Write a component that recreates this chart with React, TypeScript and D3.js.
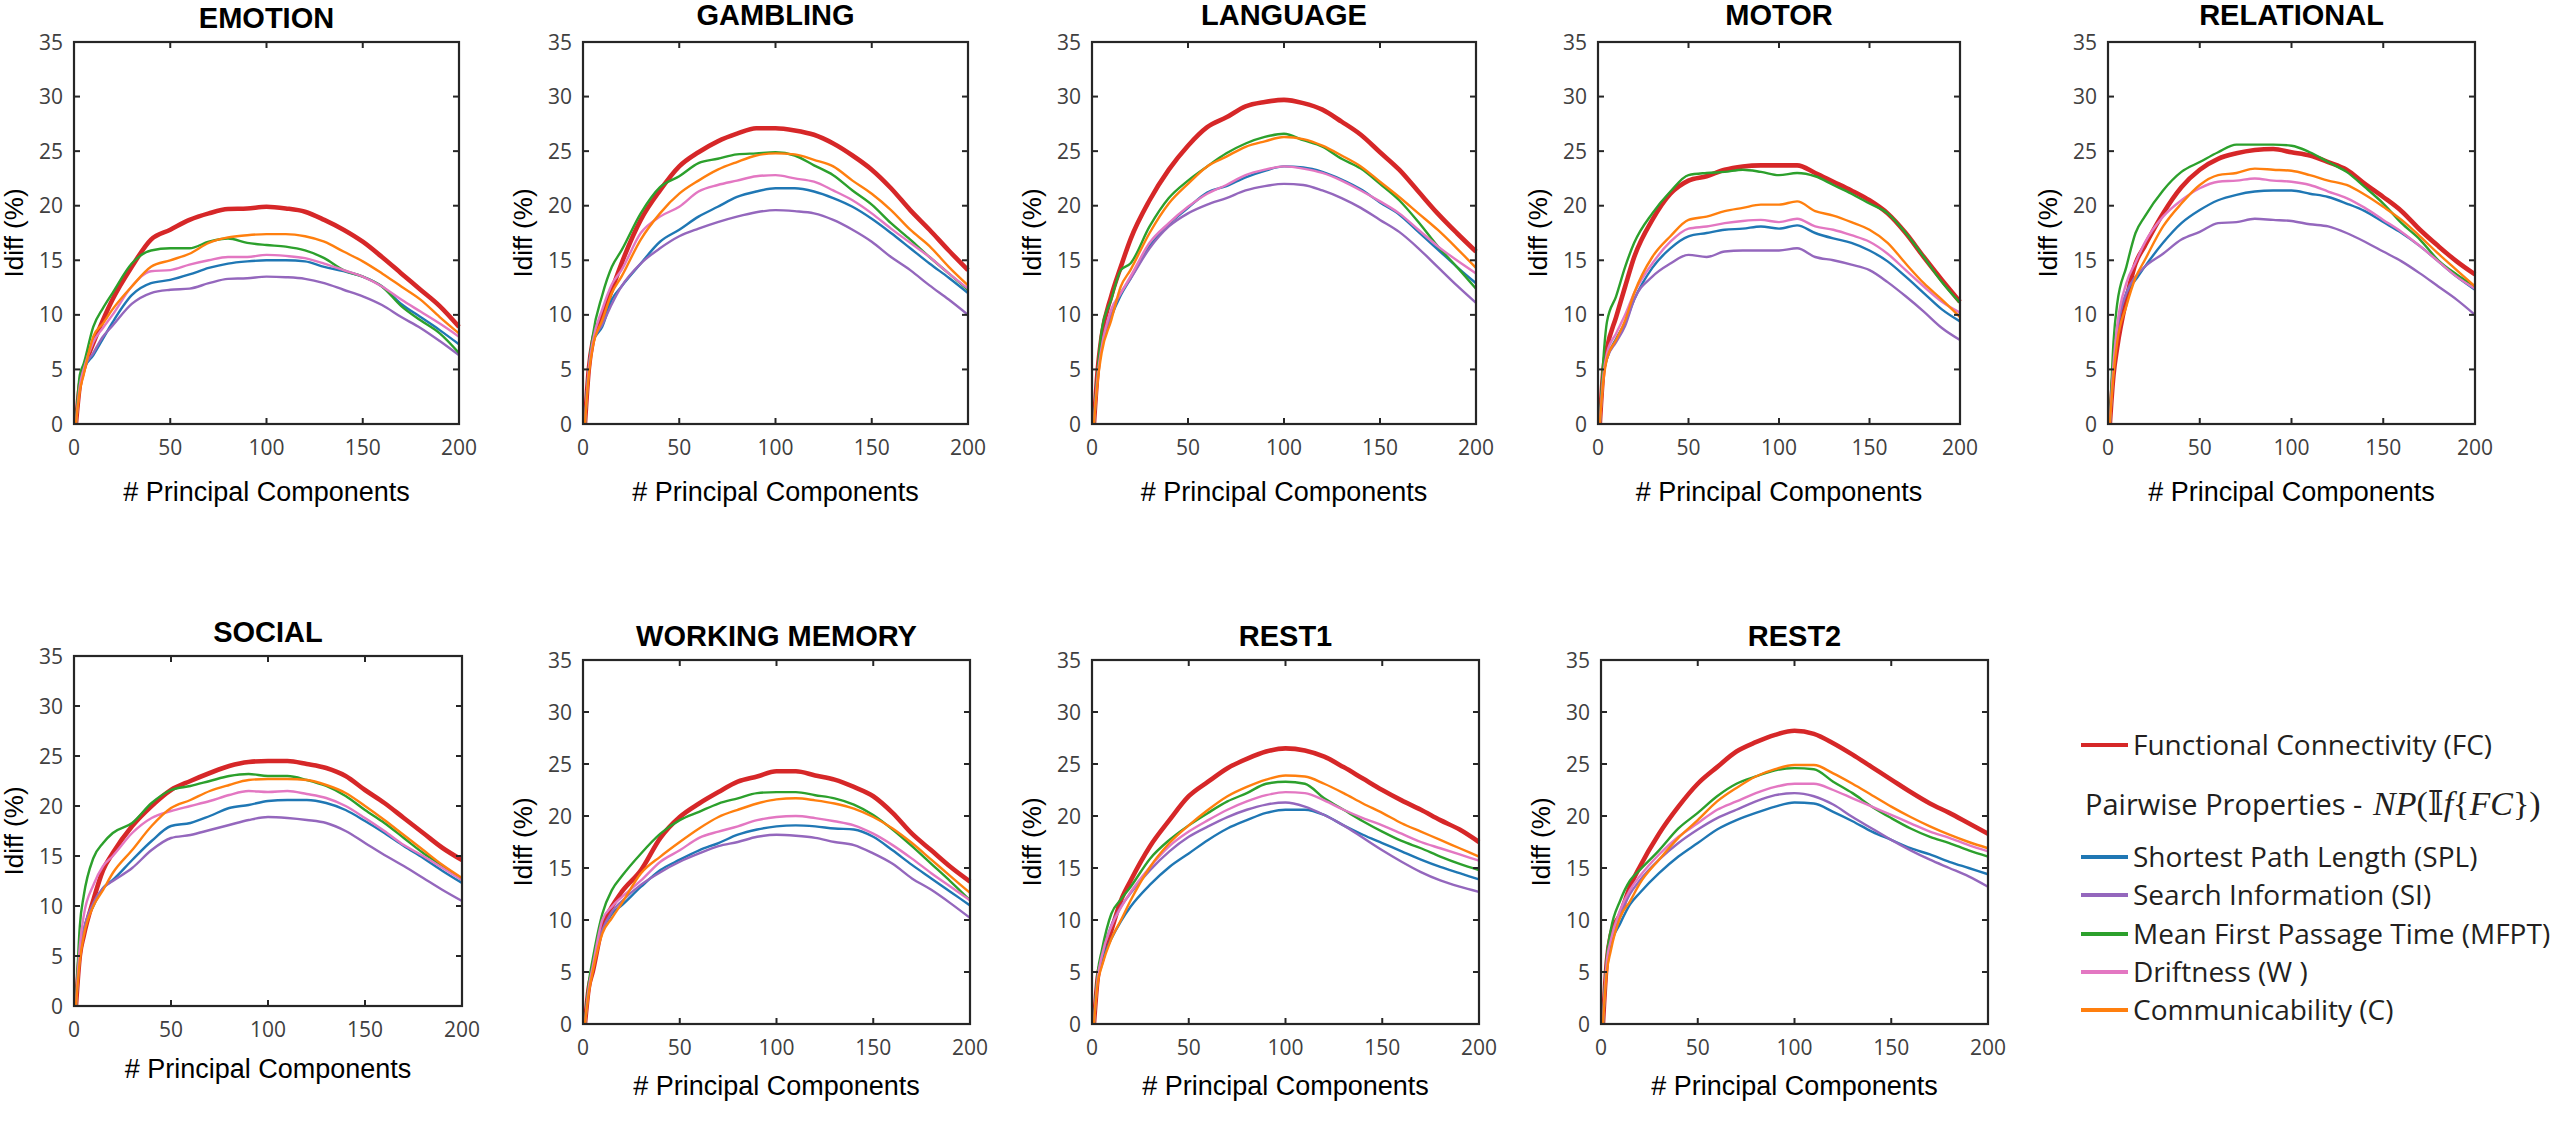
import React from "react";
import * as d3 from "d3";

// ---------- data ----------
const XS = [1, 3, 5, 10, 15, 20, 30, 40, 50, 60, 70, 80, 90, 100, 110, 120, 130, 140, 150, 160, 170, 180, 190, 200];
const SERIES = ["FC", "SPL", "SI", "MFPT", "W", "C"];
const COLORS = ["#d62728", "#1f77b4", "#9467bd", "#2ca02c", "#e377c2", "#ff7f0e"];
const X_TICKS = [0, 50, 100, 150, 200];
const Y_TICKS = [0, 5, 10, 15, 20, 25, 30, 35];
const TITLES = ["EMOTION", "GAMBLING", "LANGUAGE", "MOTOR", "RELATIONAL", "SOCIAL", "WORKING MEMORY", "REST1", "REST2"];

const EMOTION = [
  [0, 3.5, 5, 7.4, 9.5, 11.4, 14.4, 16.9, 17.8, 18.7, 19.3, 19.7, 19.75, 19.9, 19.75, 19.45, 18.7, 17.8, 16.7, 15.3, 13.8, 12.3, 10.8, 8.9],
  [0, 3.5, 5, 6.3, 7.8, 9.3, 11.8, 12.9, 13.2, 13.7, 14.3, 14.7, 14.9, 15, 15, 14.9, 14.4, 14, 13.5, 12.6, 11, 9.8, 8.6, 7.3],
  [0, 3.5, 5, 6.5, 8, 9, 11, 12, 12.3, 12.4, 12.9, 13.3, 13.35, 13.5, 13.45, 13.3, 12.9, 12.3, 11.7, 10.9, 9.8, 8.8, 7.6, 6.3],
  [0, 4.5, 5.5, 8.9, 10.6, 12, 14.7, 15.9, 16.1, 16.1, 16.7, 17, 16.6, 16.4, 16.25, 15.9, 15.2, 14.1, 13.5, 12.6, 10.8, 9.5, 8.3, 6.5],
  [0, 3.5, 5, 7.5, 8.8, 10, 12.6, 14, 14.1, 14.6, 15, 15.3, 15.3, 15.5, 15.4, 15.2, 14.7, 14.1, 13.5, 12.6, 11.4, 10.3, 9.2, 8],
  [0, 3, 4.5, 8, 9.2, 10.5, 12.6, 14.4, 15, 15.6, 16.6, 17.1, 17.3, 17.4, 17.4, 17.2, 16.7, 15.8, 14.9, 13.8, 12.6, 11.4, 9.8, 8.3],
];
const GAMBLING = [
  [0, 5, 7.5, 9.8, 12.3, 14.7, 18.7, 21.4, 23.6, 24.9, 25.9, 26.6, 27.1, 27.1, 26.9, 26.5, 25.7, 24.6, 23.3, 21.6, 19.6, 17.8, 15.9, 14.1],
  [0, 5, 7.5, 8.9, 11.4, 12.6, 14.7, 16.7, 17.8, 19, 19.9, 20.8, 21.3, 21.6, 21.6, 21.3, 20.7, 19.9, 18.8, 17.5, 16.1, 14.7, 13.4, 12],
  [0, 5, 7.5, 9.1, 11, 12.6, 14.7, 16.1, 17.2, 17.9, 18.5, 19, 19.4, 19.6, 19.5, 19.3, 18.7, 17.8, 16.7, 15.3, 14.1, 12.7, 11.4, 10],
  [0, 5, 8, 11.8, 14.4, 15.9, 19.3, 21.7, 22.7, 23.9, 24.3, 24.7, 24.8, 24.9, 24.6, 23.7, 22.8, 21.4, 20.1, 18.4, 16.9, 15.3, 13.8, 12.3],
  [0, 5, 7.5, 10.5, 12.8, 14.1, 17.5, 19, 19.9, 21.3, 21.9, 22.3, 22.7, 22.8, 22.5, 22.2, 21.4, 20.5, 19.3, 17.9, 16.6, 15.3, 13.8, 12.4],
  [0, 4.5, 7, 9.5, 12, 13.5, 16.9, 19.3, 21.1, 22.3, 23.3, 24, 24.6, 24.8, 24.7, 24.2, 23.6, 22.3, 21.1, 19.6, 17.8, 16.3, 14.4, 12.7],
];
const LANGUAGE = [
  [0, 5, 8, 11.7, 14.4, 16.9, 20.5, 23.3, 25.5, 27.2, 28.1, 29.1, 29.5, 29.7, 29.4, 28.8, 27.7, 26.5, 24.9, 23.3, 21.3, 19.3, 17.5, 15.8],
  [0, 4.5, 7, 9.8, 11.8, 13.3, 16.3, 18.3, 19.8, 21.2, 21.8, 22.6, 23.2, 23.6, 23.5, 23.1, 22.4, 21.5, 20.3, 19.2, 17.6, 16, 14.4, 12.9],
  [0, 4.5, 7, 10, 12, 13.3, 16.1, 18.1, 19.3, 20.1, 20.7, 21.4, 21.8, 22, 21.9, 21.4, 20.7, 19.8, 18.7, 17.6, 16.1, 14.4, 12.7, 11.1],
  [0, 5, 8.5, 11.4, 14.1, 14.7, 18.1, 20.7, 22.3, 23.6, 24.8, 25.7, 26.3, 26.6, 26, 25.4, 24.3, 23.4, 22, 20.5, 18.5, 16.3, 14.4, 12.4],
  [0, 4.5, 7, 10.5, 12, 13.5, 16.6, 18.4, 19.9, 21.1, 21.9, 22.8, 23.3, 23.6, 23.4, 23, 22.3, 21.4, 20.4, 19.3, 17.8, 16.3, 15, 13.8],
  [0, 4, 6.5, 9.5, 12.6, 14.1, 17.5, 20.2, 22, 23.6, 24.5, 25.4, 25.9, 26.3, 26.1, 25.5, 24.6, 23.6, 22.2, 20.8, 19.3, 17.8, 16.1, 14.3],
];
const MOTOR = [
  [0, 5, 7, 9.8, 12.6, 15.3, 18.7, 21.1, 22.3, 22.7, 23.3, 23.6, 23.7, 23.7, 23.7, 23, 22.2, 21.4, 20.5, 19.3, 17.5, 15.3, 13.2, 11.2],
  [0, 4.5, 6, 7.8, 9.3, 11.4, 14.3, 16.1, 17.2, 17.5, 17.8, 17.9, 18.1, 17.9, 18.2, 17.5, 17, 16.6, 15.9, 14.9, 13.5, 12, 10.5, 9.4],
  [0, 4.5, 6, 7.5, 9, 11.4, 13.5, 14.7, 15.5, 15.3, 15.8, 15.9, 15.9, 15.9, 16.1, 15.3, 15, 14.6, 14.1, 13, 11.7, 10.3, 8.8, 7.7],
  [0, 6, 9.4, 11.7, 14.4, 16.6, 19.3, 21.3, 22.8, 23, 23.1, 23.3, 23.1, 22.8, 23, 22.7, 21.9, 21.1, 20.2, 19.3, 17.5, 15.3, 13, 11.1],
  [0, 4.5, 6.5, 8.3, 10, 12, 14.7, 16.7, 17.9, 18.1, 18.4, 18.6, 18.7, 18.5, 18.8, 18.1, 17.8, 17.3, 16.7, 15.6, 14.1, 12.6, 11.2, 10.2],
  [0, 4, 6, 7.7, 9.5, 12, 15.3, 17.2, 18.7, 19, 19.5, 19.8, 20.1, 20.1, 20.4, 19.5, 19.1, 18.5, 17.8, 16.6, 14.7, 12.9, 11.4, 9.8],
];
const RELATIONAL = [
  [0, 4.5, 7, 11.4, 14.7, 16.3, 19.3, 21.7, 23.3, 24.3, 24.8, 25.1, 25.2, 24.9, 24.6, 24, 23.3, 22, 20.8, 19.5, 17.8, 16.3, 14.9, 13.7],
  [0, 5, 8.5, 12, 13.2, 14.4, 16.6, 18.4, 19.6, 20.5, 21, 21.3, 21.4, 21.4, 21.1, 20.8, 20.2, 19.5, 18.5, 17.5, 16.3, 14.9, 13.5, 12.3],
  [0, 5, 8.5, 12, 13.5, 14.4, 15.6, 16.9, 17.6, 18.4, 18.5, 18.8, 18.7, 18.6, 18.3, 18.1, 17.5, 16.7, 15.8, 14.9, 13.8, 12.6, 11.4, 10],
  [0, 7.5, 11, 14.4, 17.5, 19, 21.4, 23.1, 24, 24.9, 25.6, 25.6, 25.6, 25.5, 24.9, 24, 23.1, 21.7, 20.2, 18.4, 16.9, 15, 13.7, 12.6],
  [0, 5.5, 9, 12.9, 14.8, 16.6, 19, 20.5, 21.6, 22.2, 22.3, 22.5, 22.3, 22.2, 21.9, 21.3, 20.7, 19.8, 18.7, 17.6, 16.3, 14.9, 13.5, 12.4],
  [0, 4.5, 7.5, 10.8, 13.4, 15, 18.1, 20.2, 21.9, 22.8, 23, 23.4, 23.3, 23.2, 22.8, 22.3, 21.9, 21, 19.9, 18.7, 17.2, 15.6, 14.1, 12.6],
];
const SOCIAL = [
  [0, 5, 7, 10.6, 13.6, 15.3, 18, 20, 21.6, 22.5, 23.3, 24, 24.4, 24.5, 24.5, 24.2, 23.8, 23, 21.6, 20.3, 18.8, 17.3, 15.8, 14.6],
  [0, 5, 7.5, 10, 11.8, 12.6, 14.6, 16.5, 18, 18.3, 19, 19.8, 20.1, 20.5, 20.6, 20.6, 20.3, 19.6, 18.5, 17.3, 16, 14.8, 13.5, 12.3],
  [0, 5, 7.5, 10.3, 11.8, 12.5, 13.8, 15.6, 16.8, 17.1, 17.6, 18.1, 18.6, 18.9, 18.8, 18.6, 18.3, 17.5, 16.3, 15.1, 14, 12.8, 11.6, 10.5],
  [0, 8, 11, 14.8, 16.3, 17.3, 18.3, 20.3, 21.6, 22, 22.5, 23, 23.2, 23, 23, 22.6, 22, 21, 19.6, 18.3, 16.8, 15.3, 14, 12.6],
  [0, 6, 9, 12.1, 14, 15, 17.3, 18.8, 19.5, 20, 20.5, 21.1, 21.5, 21.4, 21.5, 21.2, 20.8, 20, 18.8, 17.5, 16.1, 15, 13.8, 12.6],
  [0, 4.5, 7, 10, 11.6, 13.3, 15.6, 18, 19.8, 20.6, 21.5, 22.1, 22.6, 22.7, 22.7, 22.6, 22.1, 21.3, 20, 18.6, 17.1, 15.6, 14.1, 12.8],
];
const WORKING_MEMORY = [
  [0, 3.5, 5, 9.4, 11.3, 12.7, 14.8, 17.9, 19.9, 21.2, 22.3, 23.3, 23.8, 24.3, 24.3, 23.9, 23.5, 22.8, 21.9, 20.3, 18.3, 16.7, 15.1, 13.7],
  [0, 3.5, 5.5, 9, 10.6, 11.4, 13.2, 14.8, 15.8, 16.7, 17.4, 18.2, 18.7, 19, 19.1, 19, 18.8, 18.7, 18, 16.7, 15.3, 14, 12.7, 11.4],
  [0, 3.5, 5.5, 9, 10.8, 11.8, 13.4, 14.6, 15.6, 16.4, 17.1, 17.5, 18, 18.2, 18.1, 17.9, 17.5, 17.2, 16.4, 15.4, 14, 12.9, 11.6, 10.2],
  [0, 4, 6.2, 10.6, 12.9, 14.2, 16.4, 18.3, 19.6, 20.4, 21.2, 21.7, 22.2, 22.3, 22.3, 22, 21.7, 21.1, 20.1, 18.7, 17.1, 15.4, 13.7, 11.9],
  [0, 3.5, 5.5, 10, 11.3, 12.2, 13.8, 15.6, 16.7, 17.9, 18.5, 19, 19.6, 19.9, 20, 19.8, 19.5, 19.1, 18.3, 17.2, 15.9, 14.5, 13.2, 11.9],
  [0, 3, 5, 8.7, 10.2, 11.6, 14.5, 16.1, 17.5, 18.8, 19.9, 20.6, 21.2, 21.6, 21.7, 21.5, 21.2, 20.7, 19.9, 18.8, 17.4, 15.8, 14.2, 12.6],
];
const REST1 = [
  [0, 4.5, 6, 9, 11.9, 13.8, 17.1, 19.6, 21.9, 23.3, 24.6, 25.5, 26.2, 26.5, 26.3, 25.7, 24.7, 23.6, 22.5, 21.5, 20.6, 19.6, 18.7, 17.5],
  [0, 4.5, 6, 8.2, 9.9, 11.3, 13.4, 15.1, 16.4, 17.7, 18.8, 19.6, 20.3, 20.6, 20.6, 20.1, 19.1, 18.2, 17.4, 16.6, 15.8, 15.1, 14.5, 13.9],
  [0, 4.5, 6.5, 9.5, 11.3, 12.6, 14.8, 16.6, 18, 19, 19.9, 20.6, 21.1, 21.3, 20.9, 20.1, 19.1, 17.9, 16.7, 15.6, 14.6, 13.8, 13.2, 12.7],
  [0, 5, 7, 10.6, 12, 13.2, 15.9, 17.7, 19.1, 20.3, 21.4, 22.2, 23.1, 23.3, 23.1, 21.7, 20.6, 19.5, 18.5, 17.6, 16.9, 16.1, 15.4, 14.8],
  [0, 4.5, 6.5, 9.4, 11.2, 12.7, 15.1, 17.1, 18.5, 19.6, 20.6, 21.4, 22, 22.3, 22.2, 21.5, 20.6, 19.8, 19.1, 18.3, 17.5, 16.9, 16.3, 15.7],
  [0, 4, 5.5, 8.2, 10, 11.9, 15.1, 17.4, 19.1, 20.6, 21.9, 22.8, 23.5, 23.9, 23.8, 23.1, 22.2, 21.2, 20.3, 19.3, 18.5, 17.7, 16.9, 16.1],
];
const REST2 = [
  [0, 6, 8.5, 10.6, 13.2, 15.1, 18.3, 20.9, 23.1, 24.7, 26.2, 27.1, 27.8, 28.2, 27.9, 27, 25.9, 24.7, 23.5, 22.3, 21.2, 20.3, 19.3, 18.3],
  [0, 5.5, 7.5, 9.7, 11.5, 12.6, 14.5, 16.1, 17.4, 18.7, 19.6, 20.3, 20.9, 21.3, 21.2, 20.4, 19.5, 18.5, 17.7, 16.9, 16.3, 15.6, 15, 14.4],
  [0, 6, 8, 10.5, 12.5, 13.8, 15.8, 17.4, 18.7, 19.8, 20.6, 21.4, 22, 22.2, 21.9, 21.1, 19.9, 18.8, 17.7, 16.7, 15.8, 15, 14.2, 13.2],
  [0, 6.5, 9, 11.9, 13.8, 14.8, 16.7, 18.8, 20.3, 21.9, 23.1, 23.8, 24.4, 24.6, 24.5, 23.3, 22.2, 20.9, 19.8, 18.8, 18, 17.4, 16.7, 16.1],
  [0, 6, 8, 11, 12.9, 14.2, 16.3, 18, 19.3, 20.6, 21.4, 22.2, 22.8, 23.1, 23.1, 22.5, 21.7, 20.9, 20.1, 19.3, 18.5, 17.9, 17.2, 16.6],
  [0, 5, 7, 10.3, 11.8, 13.5, 15.8, 17.9, 19.6, 21.4, 22.7, 23.8, 24.5, 24.9, 24.9, 24.1, 23.1, 22, 20.9, 19.9, 19, 18.2, 17.5, 16.9],
];
const PANEL_DATA = [EMOTION, GAMBLING, LANGUAGE, MOTOR, RELATIONAL, SOCIAL, WORKING_MEMORY, REST1, REST2];

const LEGEND_LABELS = [
  "Functional Connectivity (FC)",
  "Shortest Path Length (SPL)",
  "Search Information (SI)",
  "Mean First Passage Time (MFPT)",
  "Driftness (W )",
  "Communicability (C)",
];

// ---------- layout ----------
// [left, right, top, bottom, titleBaseline, xLabelBaseline]
const LAYOUT = [
  [74, 459, 42, 424, 28, 501],
  [583, 968, 42, 424, 25, 501],
  [1092, 1476, 42, 424, 25, 501],
  [1598, 1960, 42, 424, 25, 501],
  [2108, 2475, 42, 424, 25, 501],
  [74, 462, 656, 1006, 642, 1078],
  [583, 970, 660, 1024, 646, 1095],
  [1092, 1479, 660, 1024, 646, 1095],
  [1601, 1988, 660, 1024, 646, 1095],
];

const TICK_FONT = "'Open Sans', 'Noto Sans', sans-serif";
const LABEL_FONT = "'Liberation Sans', Arial, Helvetica, sans-serif";
const LEGEND_FONT = "'Open Sans', 'Noto Sans', sans-serif";

function Panel({ idx }: { idx: number }) {
  const [l, r, t, b, titleY, xLabY] = LAYOUT[idx];
  const data = PANEL_DATA[idx];
  const x = d3.scaleLinear().domain([0, 200]).range([l, r]);
  const y = d3.scaleLinear().domain([0, 35]).range([b, t]);
  const line = d3
    .line<number>()
    .x((_, i) => x(XS[i]))
    .y((v) => y(v))
    .curve(d3.curveMonotoneX);
  const tickLen = 6;
  const axisColor = "#262626";
  return (
    <g>
      {data.map((vals, si) => (
        <path
          key={si}
          d={line(vals) || ""}
          fill="none"
          stroke={COLORS[si]}
          strokeWidth={si === 0 ? 4.6 : 2.4}
          strokeLinejoin="round"
        />
      ))}
      <rect x={l} y={t} width={r - l} height={b - t} fill="none" stroke={axisColor} strokeWidth={2.2} />
      {X_TICKS.map((v) => (
        <g key={"x" + v}>
          <line x1={x(v)} x2={x(v)} y1={b} y2={b - tickLen} stroke={axisColor} strokeWidth={2} />
          <line x1={x(v)} x2={x(v)} y1={t} y2={t + tickLen} stroke={axisColor} strokeWidth={2} />
          <text x={x(v)} y={b + 31} textAnchor="middle" fontFamily={TICK_FONT} fontSize={21} fill="#404040">
            {v}
          </text>
        </g>
      ))}
      {Y_TICKS.map((v) => (
        <g key={"y" + v}>
          <line x1={l} x2={l + tickLen} y1={y(v)} y2={y(v)} stroke={axisColor} strokeWidth={2} />
          <line x1={r} x2={r - tickLen} y1={y(v)} y2={y(v)} stroke={axisColor} strokeWidth={2} />
          <text x={l - 11} y={y(v) + 7.5} textAnchor="end" fontFamily={TICK_FONT} fontSize={21} fill="#404040">
            {v}
          </text>
        </g>
      ))}
      <text
        x={(l + r) / 2}
        y={titleY}
        textAnchor="middle"
        fontFamily={LABEL_FONT}
        fontWeight="bold"
        fontSize={29}
        fill="#000"
      >
        {TITLES[idx]}
      </text>
      <text x={(l + r) / 2} y={xLabY} textAnchor="middle" fontFamily={LABEL_FONT} fontSize={27} fill="#000">
        # Principal Components
      </text>
      <text
        transform={`translate(${l - 51},${(t + b) / 2}) rotate(-90)`}
        textAnchor="middle"
        fontFamily={LABEL_FONT}
        fontSize={26}
        fill="#000"
      >
        Idiff (%)
      </text>
    </g>
  );
}

function Legend() {
  const lineX1 = 2081;
  const lineX2 = 2128;
  const textX = 2133;
  const baselines = [755, 867, 905, 944, 982, 1020];
  return (
    <g>
      {LEGEND_LABELS.map((lab, i) => (
        <g key={i}>
          <line x1={lineX1} x2={lineX2} y1={baselines[i] - 10} y2={baselines[i] - 10} stroke={COLORS[i]} strokeWidth={4} />
          <text x={textX} y={baselines[i]} fontFamily={LEGEND_FONT} fontSize={28} fill="#231f20">
            {lab}
          </text>
        </g>
      ))}
      <text x={2085} y={815} fontFamily={LEGEND_FONT} fontSize={29} fill="#231f20">
        {"Pairwise Properties - "}
        <tspan dx={3} fontFamily="'Liberation Serif', 'DejaVu Serif', serif" fontSize={34}>
          <tspan fontStyle="italic">NP</tspan>
          <tspan>(</tspan>
          <tspan fontFamily="'DejaVu Serif', 'DejaVu Sans', serif">𝕀</tspan>
          <tspan fontStyle="italic">f</tspan>
          <tspan>{"{"}</tspan>
          <tspan fontStyle="italic">FC</tspan>
          <tspan>{"})"}</tspan>
        </tspan>
      </text>
    </g>
  );
}

export default function App() {
  return (
    <svg
      width={2560}
      height={1135}
      viewBox="0 0 2560 1135"
      style={{ position: "absolute", left: 0, top: 0, background: "#fff" }}
    >
      <rect x={0} y={0} width={2560} height={1135} fill="#fff" />
      {TITLES.map((_, i) => (
        <Panel key={i} idx={i} />
      ))}
      <Legend />
    </svg>
  );
}
